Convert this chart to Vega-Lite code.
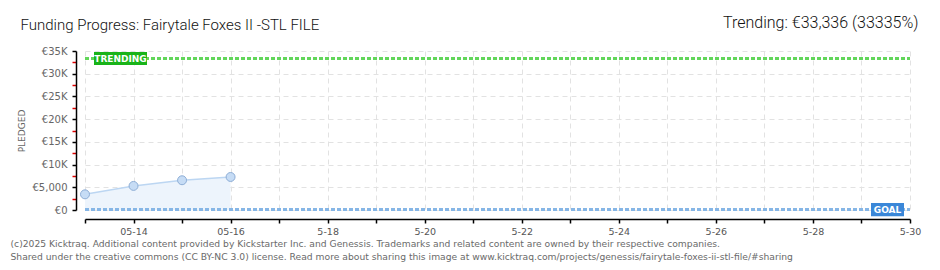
{
  "$schema": "https://vega.github.io/schema/vega-lite/v6.json",
  "width": 825,
  "height": 159,
  "autosize": "none",
  "padding": {"left": 85, "top": 51, "right": 30, "bottom": 60},
  "background": "white",
  "config": {"view": {"stroke": null}, "axis": {"labelFont": "DejaVu Sans", "titleFont": "DejaVu Sans"}},
  "datasets": {
    "pledges": [
      {"date": "2025-05-13", "pledged": 3450},
      {"date": "2025-05-14", "pledged": 5300},
      {"date": "2025-05-15", "pledged": 6550},
      {"date": "2025-05-16", "pledged": 7270}
    ],
    "lines": [
      {"kind": "TRENDING", "start": "2025-05-13", "end": "2025-05-30", "value": 33336},
      {"kind": "GOAL", "start": "2025-05-13", "end": "2025-05-30", "value": 100}
    ]
  },
  "resolve": {"axis": {"x": "independent", "y": "independent"}},
  "layer": [
    {
      "data": {"name": "pledges"},
      "mark": {"type": "area", "color": "#edf4fc", "opacity": 1},
      "encoding": {
        "x": {
          "field": "date", "type": "temporal",
          "scale": {"type": "utc", "domain": [{"year": 2025, "month": 5, "date": 13, "utc": true}, {"year": 2025, "month": 5, "date": 30, "utc": true}]},
          "axis": {
            "orient": "bottom",
            "values": [
              {"year": 2025, "month": 5, "date": 13, "utc": true}, {"year": 2025, "month": 5, "date": 14, "utc": true},
              {"year": 2025, "month": 5, "date": 15, "utc": true}, {"year": 2025, "month": 5, "date": 16, "utc": true},
              {"year": 2025, "month": 5, "date": 17, "utc": true}, {"year": 2025, "month": 5, "date": 18, "utc": true},
              {"year": 2025, "month": 5, "date": 19, "utc": true}, {"year": 2025, "month": 5, "date": 20, "utc": true},
              {"year": 2025, "month": 5, "date": 21, "utc": true}, {"year": 2025, "month": 5, "date": 22, "utc": true},
              {"year": 2025, "month": 5, "date": 23, "utc": true}, {"year": 2025, "month": 5, "date": 24, "utc": true},
              {"year": 2025, "month": 5, "date": 25, "utc": true}, {"year": 2025, "month": 5, "date": 26, "utc": true},
              {"year": 2025, "month": 5, "date": 27, "utc": true}, {"year": 2025, "month": 5, "date": 28, "utc": true},
              {"year": 2025, "month": 5, "date": 29, "utc": true}, {"year": 2025, "month": 5, "date": 30, "utc": true}
            ],
            "labelExpr": "utcdate(datum.value) % 2 == 0 ? (utcdate(datum.value) <= 16 ? utcFormat(datum.value, '%m-%d') : utcFormat(datum.value, '%-m-%d')) : ''",
            "labelFontSize": 9.5, "labelColor": "#555", "labelPadding": 3,
            "labelOverlap": false, "labelFlush": false,
            "offset": 9,
            "domainColor": "#000", "domainWidth": 1.5,
            "tickColor": "#000", "tickSize": 4, "tickWidth": 1.5,
            "grid": true, "gridColor": "#e2e2e2", "gridDash": [5, 4],
            "title": [
              "(c)2025 Kicktraq. Additional content provided by Kickstarter Inc. and Genessis. Trademarks and related content are owned by their respective companies.",
              "Shared under the creative commons (CC BY-NC 3.0) license. Read more about sharing this image at www.kicktraq.com/projects/genessis/fairytale-foxes-ii-stl-file/#sharing"
            ],
            "titleFontSize": 9.2, "titleFontWeight": "normal", "titleColor": "#6a6a6a",
            "titleAlign": "left", "titleAnchor": null, "titleBaseline": "alphabetic",
            "titleX": -75, "titleY": 27, "titleLineHeight": 13
          }
        },
        "y": {
          "field": "pledged", "type": "quantitative",
          "scale": {"domain": [0, 35000], "nice": false, "zero": true},
          "axis": {
            "orient": "left",
            "values": [0, 2500, 5000, 7500, 10000, 12500, 15000, 17500, 20000, 22500, 25000, 27500, 30000, 32500, 35000],
            "labelExpr": "datum.value % 5000 != 0 ? '' : (datum.value == 0 ? '€0' : (datum.value < 10000 ? '€' + format(datum.value, ',') : '€' + (datum.value / 1000) + 'K'))",
            "labelFontSize": 10, "labelColor": "#666", "labelPadding": 5,
            "offset": 9,
            "domainColor": "#000", "domainWidth": 1.5,
            "tickColor": {"condition": {"test": "datum.value % 5000 != 0", "value": "#dd0000"}, "value": "#000"},
            "tickSize": 4, "tickWidth": 1.5,
            "grid": true,
            "gridColor": {"condition": {"test": "datum.value % 5000 != 0", "value": "transparent"}, "value": "#e2e2e2"},
            "gridDash": [5, 4],
            "title": "PLEDGED", "titleFontSize": 9, "titleFontWeight": "normal", "titleColor": "#666",
            "titlePadding": 6
          }
        }
      }
    },
    {
      "data": {"name": "pledges"},
      "mark": {"type": "line", "color": "#bcd6f2", "strokeWidth": 1.5},
      "encoding": {
        "x": {"field": "date", "type": "temporal", "axis": null},
        "y": {"field": "pledged", "type": "quantitative", "axis": null}
      }
    },
    {
      "data": {"name": "lines"},
      "transform": [{"filter": "datum.kind == 'TRENDING'"}],
      "mark": {"type": "rule", "color": "#62d65a", "strokeWidth": 3, "strokeDash": [4, 2]},
      "encoding": {
        "x": {"field": "start", "type": "temporal",
          "axis": {"orient": "top", "labels": false, "ticks": false, "domain": false, "grid": false,
            "title": "Funding Progress: Fairytale Foxes II -STL FILE",
            "titleFont": "Roboto", "titleFontSize": 15, "titleFontWeight": 300, "titleColor": "#111",
            "titleAlign": "left", "titleAnchor": null, "titleBaseline": "alphabetic", "titleX": -65, "titleY": -22}},
        "x2": {"field": "end"},
        "y": {"field": "value", "type": "quantitative",
          "axis": {"orient": "right", "labels": false, "ticks": false, "domain": false, "grid": false,
            "title": "Trending:  €33,336 (33335%)",
            "titleFont": "Roboto", "titleFontSize": 16, "titleFontWeight": 300, "titleColor": "#111",
            "titleAngle": 0, "titleAlign": "right", "titleAnchor": null, "titleBaseline": "alphabetic", "titleX": 8, "titleY": -24}}
      }
    },
    {
      "data": {"name": "lines"},
      "transform": [{"filter": "datum.kind == 'GOAL'"}],
      "mark": {"type": "rule", "color": "#86b6e6", "strokeWidth": 3, "strokeDash": [4, 2]},
      "encoding": {
        "x": {"field": "start", "type": "temporal", "axis": null},
        "x2": {"field": "end"},
        "y": {"field": "value", "type": "quantitative", "axis": null}
      }
    },
    {
      "data": {"name": "pledges"},
      "mark": {"type": "point", "filled": true, "fill": "#c6dcf5", "stroke": "#8eaed6", "strokeWidth": 1, "size": 80, "opacity": 1},
      "encoding": {
        "x": {"field": "date", "type": "temporal", "axis": null},
        "y": {"field": "pledged", "type": "quantitative", "axis": null}
      }
    },
    {
      "data": {"name": "lines"},
      "transform": [{"filter": "datum.kind == 'TRENDING'"}],
      "mark": {"type": "point", "filled": true, "color": "#19b319", "opacity": 1, "size": 2809, "shape": "M-1,-0.245H1V0.245H-1Z", "xOffset": 35.5},
      "encoding": {
        "x": {"field": "start", "type": "temporal", "axis": null},
        "y": {"field": "value", "type": "quantitative", "axis": null}
      }
    },
    {
      "data": {"name": "lines"},
      "transform": [{"filter": "datum.kind == 'GOAL'"}],
      "mark": {"type": "point", "filled": true, "color": "#3a87d8", "opacity": 1, "size": 1089, "shape": "M-1,-0.4H1V0.4H-1Z", "xOffset": -22.5},
      "encoding": {
        "x": {"field": "end", "type": "temporal", "axis": null},
        "y": {"field": "value", "type": "quantitative", "axis": null}
      }
    },
    {
      "data": {"name": "lines"},
      "transform": [{"filter": "datum.kind == 'TRENDING'"}],
      "mark": {"type": "text", "color": "white", "font": "DejaVu Sans", "fontSize": 9, "fontWeight": "bold", "align": "center", "baseline": "middle", "xOffset": 35.5, "yOffset": 0.5},
      "encoding": {
        "x": {"field": "start", "type": "temporal", "axis": null},
        "y": {"field": "value", "type": "quantitative", "axis": null},
        "text": {"field": "kind"}
      }
    },
    {
      "data": {"name": "lines"},
      "transform": [{"filter": "datum.kind == 'GOAL'"}],
      "mark": {"type": "text", "color": "white", "font": "DejaVu Sans", "fontSize": 9, "fontWeight": "bold", "align": "center", "baseline": "middle", "xOffset": -22.5, "yOffset": 0.5},
      "encoding": {
        "x": {"field": "end", "type": "temporal", "axis": null},
        "y": {"field": "value", "type": "quantitative", "axis": null},
        "text": {"field": "kind"}
      }
    }
  ]
}
